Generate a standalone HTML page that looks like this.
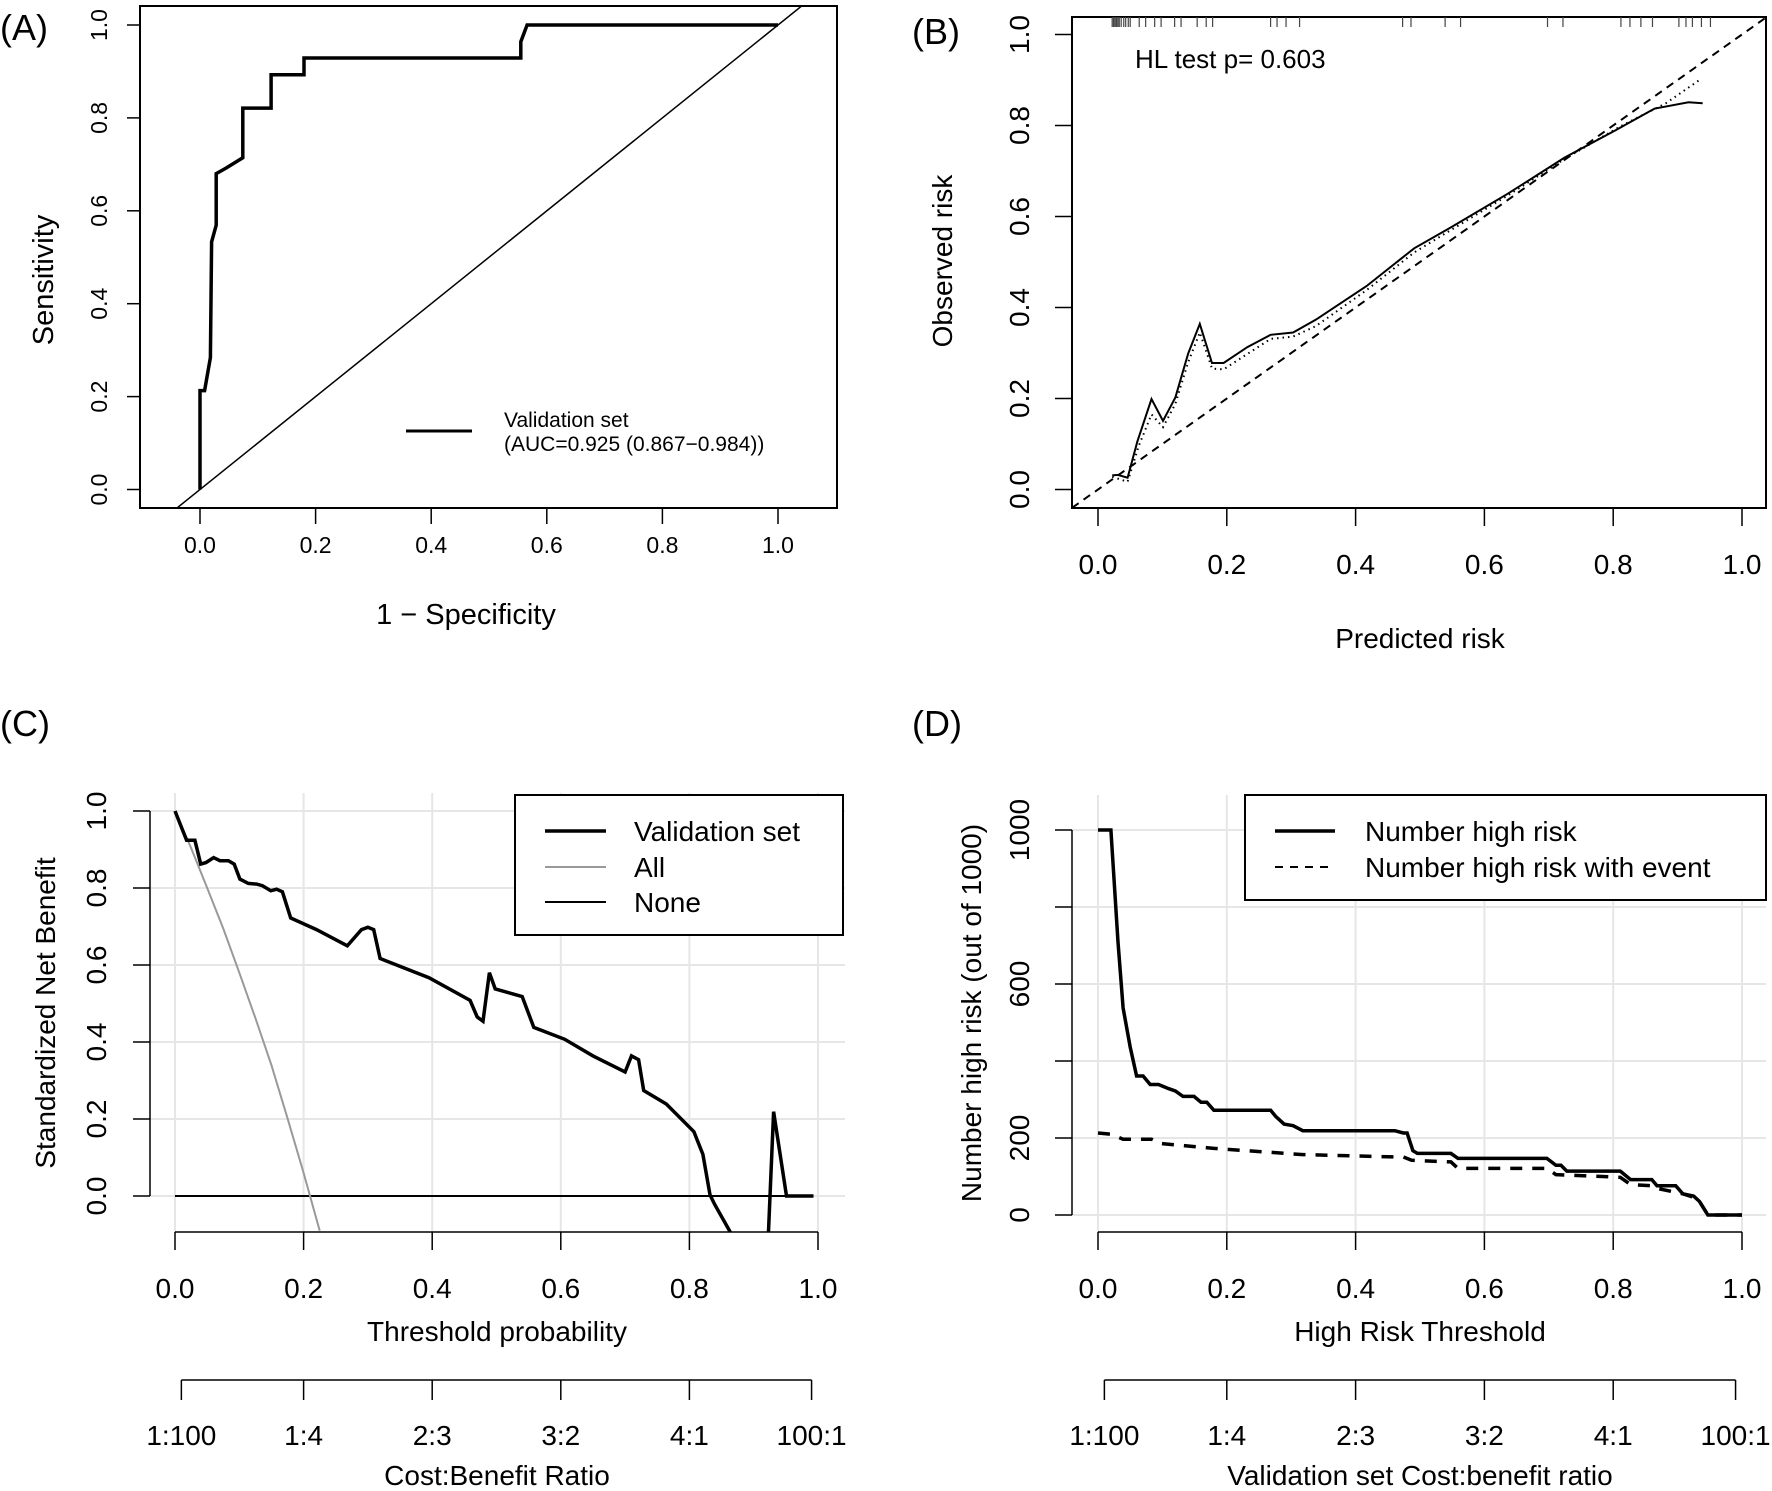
<!DOCTYPE html>
<html><head><meta charset="utf-8">
<style>
html,body{margin:0;padding:0;background:#fff;}
svg{display:block;font-family:"Liberation Sans",Arial,sans-serif;}
</style></head>
<body>
<svg id="fig" width="1772" height="1491" viewBox="0 0 1772 1491" xmlns="http://www.w3.org/2000/svg">
<defs>
<clipPath id="clipA"><rect x="140" y="6" width="697" height="502"/></clipPath>
<clipPath id="clipB"><rect x="1072" y="17" width="694" height="491"/></clipPath>
<clipPath id="clipC"><rect x="150" y="790" width="700" height="442"/></clipPath>
<clipPath id="clipD"><rect x="1072" y="790" width="700" height="442"/></clipPath>
</defs>
<g id="root"></g>
</svg>
<script>
// Panel A data (ROC)
const rocX=[0,0,0.008,0.018,0.02,0.028,0.028,0.045,0.074,0.074,0.123,0.123,0.18,0.18,0.555,0.555,0.566,1];
const rocY=[0,0.213,0.213,0.284,0.533,0.569,0.68,0.692,0.714,0.821,0.821,0.893,0.893,0.929,0.929,0.964,1,1];
const ticksA=[0,0.2,0.4,0.6,0.8,1.0];
const tickLabelsA=["0.0","0.2","0.4","0.6","0.8","1.0"];
// Panel B data (calibration)
const calX=[0.022,0.031,0.046,0.061,0.083,0.101,0.12,0.14,0.158,0.177,0.195,0.232,0.268,0.303,0.338,0.417,0.491,0.548,0.636,0.724,0.803,0.864,0.917,0.939];
const calSolid=[0.031,0.032,0.026,0.105,0.199,0.151,0.202,0.299,0.364,0.278,0.278,0.313,0.34,0.345,0.373,0.447,0.53,0.576,0.65,0.729,0.789,0.837,0.851,0.849];
const calDotX=[0.022,0.046,0.063,0.083,0.101,0.12,0.14,0.158,0.177,0.195,0.268,0.303,0.338,0.417,0.491,0.636,0.724,0.811,0.882,0.934];
const calDotted=[0.028,0.017,0.095,0.165,0.137,0.188,0.28,0.345,0.266,0.264,0.331,0.336,0.359,0.438,0.521,0.646,0.726,0.798,0.849,0.9];
const rugX=[0.022,0.024,0.026,0.028,0.029,0.031,0.033,0.036,0.04,0.043,0.047,0.05,0.064,0.074,0.088,0.098,0.119,0.129,0.154,0.168,0.178,0.268,0.278,0.292,0.313,0.473,0.486,0.539,0.563,0.698,0.722,0.812,0.826,0.843,0.861,0.902,0.913,0.923,0.937,0.951];
// Panel C data (decision curve)
const dcaX=[0,0.018,0.031,0.04,0.048,0.06,0.07,0.083,0.092,0.101,0.114,0.127,0.136,0.149,0.158,0.167,0.18,0.22,0.268,0.29,0.3,0.309,0.319,0.395,0.459,0.47,0.479,0.489,0.498,0.54,0.558,0.606,0.65,0.7,0.71,0.721,0.729,0.764,0.807,0.821,0.832,0.839,0.863,0.88,0.915,0.923,0.931,0.951,0.993];
const dcaModel=[1,0.924,0.924,0.862,0.866,0.879,0.871,0.871,0.862,0.823,0.812,0.81,0.806,0.793,0.797,0.79,0.722,0.692,0.65,0.692,0.698,0.692,0.617,0.567,0.508,0.465,0.454,0.58,0.538,0.518,0.438,0.407,0.364,0.322,0.364,0.354,0.274,0.239,0.167,0.108,0.003,-0.021,-0.092,-0.2,-0.2,-0.092,0.219,0,0];
const allX=[0,0.025,0.05,0.075,0.1,0.125,0.15,0.175,0.2,0.225];
const allY=[1,0.904,0.80,0.695,0.58,0.462,0.34,0.202,0.06,-0.09];
const noneX=[0,0.993];
const noneY=[0,0];
const ticksCY=[0,0.2,0.4,0.6,0.8,1.0];
const costThr=[0.0099,0.2,0.4,0.6,0.8,0.99];
const costLabels=["1:100","1:4","2:3","3:2","4:1","100:1"];
// Panel D data (clinical impact)
const nhrX=[0,0.02,0.031,0.039,0.05,0.06,0.07,0.081,0.094,0.11,0.12,0.132,0.149,0.16,0.169,0.18,0.268,0.276,0.289,0.303,0.318,0.461,0.474,0.48,0.489,0.496,0.548,0.559,0.697,0.711,0.719,0.728,0.811,0.827,0.86,0.868,0.897,0.908,0.925,0.934,0.947,1];
const nhrY=[1000,1000,709,538,436,361,361,339,339,328,322,308,308,293,293,272,272,256,236,232,219,219,213,213,167,160,160,147,147,129,129,114,114,92,92,76,76,55,49,35,0,0];
const nheX=[0,0.02,0.039,0.083,0.096,0.18,0.318,0.461,0.474,0.487,0.548,0.559,0.697,0.711,0.811,0.827,0.86,0.871,0.897,0.908,0.925,0.934,0.947,1];
const nheY=[213,210,197,197,186,173,157,151,151,142,138,121,121,105,98,79,76,68,59,55,46,35,0,0];
const ticksDY=[0,200,400,600,800,1000];
const tickLabelsDY=["0","200","","600","","1000"];

const NS="http://www.w3.org/2000/svg";
const root=document.getElementById('root');
function el(tag,attrs,parent,text){const e=document.createElementNS(NS,tag);for(const k in attrs)e.setAttribute(k,attrs[k]);if(text!==undefined)e.textContent=text;(parent||root).appendChild(e);return e;}
function scale(d0,d1,p0,p1){return v=>p0+(v-d0)*(p1-p0)/(d1-d0);}
function pathD(xs,ys,sx,sy){return xs.map((x,i)=>(i?'L':'M')+sx(x).toFixed(1)+' '+sy(ys[i]).toFixed(1)).join(' ');}

// ===== Panel A =====
{
const sx=scale(0,1,200,778), sy=scale(0,1,489.5,25);
const g=el('g',{});


const lab=el('text',{x:0,y:40,'font-size':36},g,'(A)');


const box=el('rect',{x:140,y:6,width:697,height:502,fill:'none',stroke:'#000','stroke-width':2},g);


const diag=el('line',{x1:sx(-0.2),y1:sy(-0.2),x2:sx(1.2),y2:sy(1.2),stroke:'#000','stroke-width':1.5,'clip-path':'url(#clipA)'},g);


const roc=el('path',{d:pathD(rocX,rocY,sx,sy),fill:'none',stroke:'#000','stroke-width':3.5,'stroke-linejoin':'miter'},g);


ticksA.forEach((t,i)=>{
  const tk=el('line',{x1:sx(t),y1:508,x2:sx(t),y2:524,stroke:'#000','stroke-width':1.5},g);
  
  
  const tl=el('text',{x:sx(t),y:553,'font-size':23,'text-anchor':'middle'},g,tickLabelsA[i]);
  
  
  const ty=el('line',{x1:127,y1:sy(t),x2:140,y2:sy(t),stroke:'#000','stroke-width':1.5},g);
  
  
  const yl=el('text',{x:107,y:sy(t),'font-size':23,'text-anchor':'middle',transform:`rotate(-90 107 ${sy(t)})`},g,tickLabelsA[i]);
  
  
});
const xt=el('text',{x:466,y:624,'font-size':29,'text-anchor':'middle'},g,'1 − Specificity');


const yt=el('text',{x:53,y:280,'font-size':29,'text-anchor':'middle',transform:'rotate(-90 53 280)'},g,'Sensitivity');


const ll=el('line',{x1:406,y1:431,x2:472,y2:431,stroke:'#000','stroke-width':3},g);


const l1=el('text',{x:504,y:427,'font-size':21},g,'Validation set');


const l2=el('text',{x:504,y:451,'font-size':21},g,'(AUC=0.925 (0.867−0.984))');


}

// ===== Panel B =====
{
const sx=scale(0,1,1098,1742), sy=scale(0,1,489.5,34.5);
const g=el('g',{});


const lab=el('text',{x:912,y:44,'font-size':36},g,'(B)');


const box=el('rect',{x:1072,y:17,width:694,height:491,fill:'none',stroke:'#000','stroke-width':2},g);


rugX.forEach(v=>{
  const r=el('line',{x1:sx(v),y1:17,x2:sx(v),y2:27,stroke:'#444','stroke-width':1.2},g);
  
  
});
const diag=el('line',{x1:sx(-0.2),y1:sy(-0.2),x2:sx(1.2),y2:sy(1.2),stroke:'#000','stroke-width':2,'stroke-dasharray':'8,6','clip-path':'url(#clipB)'},g);


const dot=el('path',{d:pathD(calDotX,calDotted,sx,sy),fill:'none',stroke:'#000','stroke-width':2,'stroke-dasharray':'1.5,4'},g);


const sol=el('path',{d:pathD(calX,calSolid,sx,sy),fill:'none',stroke:'#000','stroke-width':2},g);


ticksA.forEach((t,i)=>{
  const tk=el('line',{x1:sx(t),y1:508,x2:sx(t),y2:526,stroke:'#000','stroke-width':1.5},g);
  
  
  const tl=el('text',{x:sx(t),y:574,'font-size':28,'text-anchor':'middle'},g,tickLabelsA[i]);
  
  
  const ty=el('line',{x1:1055,y1:sy(t),x2:1072,y2:sy(t),stroke:'#000','stroke-width':1.5},g);
  
  
  const yl=el('text',{x:1029,y:sy(t),'font-size':28,'text-anchor':'middle',transform:`rotate(-90 1029 ${sy(t)})`},g,tickLabelsA[i]);
  
  
});
const hl=el('text',{x:1135,y:68,'font-size':26},g,'HL test p= 0.603');


const xt=el('text',{x:1420,y:648,'font-size':28,'text-anchor':'middle'},g,'Predicted risk');


const yt=el('text',{x:952,y:261,'font-size':28,'text-anchor':'middle',transform:'rotate(-90 952 261)'},g,'Observed risk');


}

// ===== Panel C =====
{
const sx=scale(0,1,175,818), sy=scale(0,1,1196,811);
const g=el('g',{});


const lab=el('text',{x:0,y:736,'font-size':36},g,'(C)');


ticksA.forEach(t=>{
  const gv=el('line',{x1:sx(t),y1:793,x2:sx(t),y2:1232,stroke:'#e6e6e6','stroke-width':2},g);
  
  
});
ticksCY.forEach(t=>{
  const gh=el('line',{x1:150,y1:sy(t),x2:845,y2:sy(t),stroke:'#e6e6e6','stroke-width':2},g);
  
  
});
const none=el('path',{d:pathD(noneX,noneY,sx,sy),fill:'none',stroke:'#000','stroke-width':2},g);


const all=el('path',{d:pathD(allX,allY,sx,sy),fill:'none',stroke:'#999','stroke-width':2,'clip-path':'url(#clipC)'},g);


const mod=el('path',{d:pathD(dcaX,dcaModel,sx,sy),fill:'none',stroke:'#000','stroke-width':3.5,'clip-path':'url(#clipC)'},g);


const yax=el('line',{x1:150,y1:sy(0),x2:150,y2:sy(1),stroke:'#000','stroke-width':1.5},g);


const xax=el('line',{x1:sx(0),y1:1232,x2:sx(1),y2:1232,stroke:'#000','stroke-width':1.5},g);


ticksA.forEach((t,i)=>{
  const tk=el('line',{x1:sx(t),y1:1232,x2:sx(t),y2:1250,stroke:'#000','stroke-width':1.5},g);
  
  
  const tl=el('text',{x:sx(t),y:1298,'font-size':28,'text-anchor':'middle'},g,tickLabelsA[i]);
  
  
});
ticksCY.forEach((t,i)=>{
  const ty=el('line',{x1:133,y1:sy(t),x2:150,y2:sy(t),stroke:'#000','stroke-width':1.5},g);
  
  
  const yl=el('text',{x:106,y:sy(t),'font-size':28,'text-anchor':'middle',transform:`rotate(-90 106 ${sy(t)})`},g,tickLabelsA[i]);
  
  
});
const xt=el('text',{x:497,y:1341,'font-size':28,'text-anchor':'middle'},g,'Threshold probability');


const yt=el('text',{x:55,y:1013,'font-size':28,'text-anchor':'middle',transform:'rotate(-90 55 1013)'},g,'Standardized Net Benefit');


const cax=el('line',{x1:sx(costThr[0]),y1:1380,x2:sx(costThr[5]),y2:1380,stroke:'#000','stroke-width':1.5},g);


costThr.forEach((t,i)=>{
  const tk=el('line',{x1:sx(t),y1:1380,x2:sx(t),y2:1400,stroke:'#000','stroke-width':1.5},g);
  
  
  const tl=el('text',{x:sx(t),y:1445,'font-size':28,'text-anchor':'middle'},g,costLabels[i]);
  
  
});
const ct=el('text',{x:497,y:1485,'font-size':28,'text-anchor':'middle'},g,'Cost:Benefit Ratio');


const lb=el('rect',{x:515,y:795,width:328,height:140,fill:'#fff',stroke:'#000','stroke-width':2},g);


const names=['Validation set','All','None'], cols=['#000','#999','#000'], ws=[3.5,2,2];
[831,867,902].forEach((y,i)=>{
  const ln=el('line',{x1:545,y1:y,x2:606,y2:y,stroke:cols[i],'stroke-width':ws[i]},g);
  
  
  const tx=el('text',{x:634,y:y+10,'font-size':28},g,names[i]);
  
  
});
}

// ===== Panel D =====
{
const sx=scale(0,1,1098,1742), sy=scale(0,1000,1215,830);
const g=el('g',{});


const lab=el('text',{x:912,y:736,'font-size':36},g,'(D)');


ticksA.forEach(t=>{
  const gv=el('line',{x1:sx(t),y1:795,x2:sx(t),y2:1232,stroke:'#e6e6e6','stroke-width':2},g);
  
  
});
ticksDY.forEach(t=>{
  const gh=el('line',{x1:1072,y1:sy(t),x2:1766,y2:sy(t),stroke:'#e6e6e6','stroke-width':2},g);
  
  
});
const de=el('path',{d:pathD(nheX,nheY,sx,sy),fill:'none',stroke:'#000','stroke-width':3.5,'stroke-dasharray':'12,10'},g);


const so=el('path',{d:pathD(nhrX,nhrY,sx,sy),fill:'none',stroke:'#000','stroke-width':3.5},g);


const yax=el('line',{x1:1072,y1:sy(0),x2:1072,y2:sy(1000),stroke:'#000','stroke-width':1.5},g);


const xax=el('line',{x1:sx(0),y1:1232,x2:sx(1),y2:1232,stroke:'#000','stroke-width':1.5},g);


ticksA.forEach((t,i)=>{
  const tk=el('line',{x1:sx(t),y1:1232,x2:sx(t),y2:1250,stroke:'#000','stroke-width':1.5},g);
  
  
  const tl=el('text',{x:sx(t),y:1298,'font-size':28,'text-anchor':'middle'},g,tickLabelsA[i]);
  
  
});
ticksDY.forEach((t,i)=>{
  const ty=el('line',{x1:1055,y1:sy(t),x2:1072,y2:sy(t),stroke:'#000','stroke-width':1.5},g);
  
  
  const yl=el('text',{x:1029,y:sy(t),'font-size':28,'text-anchor':'middle',transform:`rotate(-90 1029 ${sy(t)})`},g,tickLabelsDY[i]);
  
  
});
const xt=el('text',{x:1420,y:1341,'font-size':28,'text-anchor':'middle'},g,'High Risk Threshold');


const yt=el('text',{x:981,y:1013,'font-size':28,'text-anchor':'middle',transform:'rotate(-90 981 1013)'},g,'Number high risk (out of 1000)');


const cax=el('line',{x1:sx(costThr[0]),y1:1380,x2:sx(costThr[5]),y2:1380,stroke:'#000','stroke-width':1.5},g);


costThr.forEach((t,i)=>{
  const tk=el('line',{x1:sx(t),y1:1380,x2:sx(t),y2:1400,stroke:'#000','stroke-width':1.5},g);
  
  
  const tl=el('text',{x:sx(t),y:1445,'font-size':28,'text-anchor':'middle'},g,costLabels[i]);
  
  
});
const ct=el('text',{x:1420,y:1485,'font-size':28,'text-anchor':'middle'},g,'Validation set Cost:benefit ratio');


const lb=el('rect',{x:1245,y:795,width:521,height:105,fill:'#fff',stroke:'#000','stroke-width':2},g);


const l1=el('line',{x1:1275,y1:831,x2:1335,y2:831,stroke:'#000','stroke-width':3.5},g);


const t1=el('text',{x:1365,y:841,'font-size':28},g,'Number high risk');


const l2=el('line',{x1:1275,y1:867,x2:1335,y2:867,stroke:'#000','stroke-width':2,'stroke-dasharray':'8,7'},g);


const t2=el('text',{x:1365,y:877,'font-size':28},g,'Number high risk with event');


}
</script>
</body></html>
